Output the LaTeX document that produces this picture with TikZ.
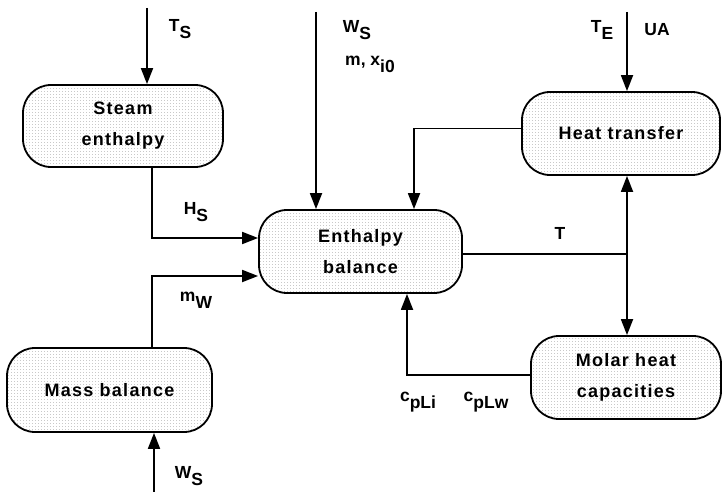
\documentclass[tikz,border=0pt]{standalone}
\usepackage{fontspec}
\setmainfont{Liberation Sans}
\newfontfamily\boxfont{Liberation Sans}[LetterSpace=7]
\usetikzlibrary{arrows.meta,patterns.meta}

% fine stipple used inside the blocks
\tikzdeclarepattern{
  name=finedots,
  type=uncolored,
  bounding box={(0pt,0pt) and (2.6pt,2.6pt)},
  tile size={(2.6pt,2.6pt)},
  code={\fill (0pt,0pt) rectangle (0.85pt,0.85pt);}
}

% variable with a lowered index
\newcommand{\lowidx}[2]{#1\raisebox{-0.4em}{#2}}

\tikzset{
  block/.style={draw=black, line width=1.8pt, rounded corners=28pt,
    preaction={fill=white}, pattern={finedots}, pattern color=black!50,
    align=center, font=\boxfont\bfseries\fontsize{18}{31}\selectfont,
    inner sep=0pt},
  flow/.style={line width=1.8pt, -{Triangle[length=16pt,width=12pt]}},
  wire/.style={line width=1.8pt},
  var/.style={font=\bfseries\fontsize{17.5}{19}\selectfont, inner sep=0pt}
}

\begin{document}
\begin{tikzpicture}[x=1pt,y=-1pt]
\useasboundingbox (0,0) rectangle (723,492);

% blocks
\node[block, minimum width=200pt, minimum height=82pt] (steam) at (123,126) {Steam\\enthalpy};
\node[block, minimum width=203pt, minimum height=83pt] (enth) at (360.5,251.5) {Enthalpy\\balance};
\node[block, minimum width=198pt, minimum height=83pt] (heat) at (621,133.5) {Heat transfer};
\node[block, minimum width=190pt, minimum height=83pt] (molar) at (626,377.5) {Molar heat\\capacities};
\node[block, minimum width=205pt, minimum height=84pt] (mass) at (109.5,390) {Mass balance};

% free ends of the input streams
\coordinate (tsin) at (147,8);
\coordinate (wsin) at (316,12);
\coordinate (tein) at (627,12);
\coordinate (wsbot) at (154,492);
\coordinate (junc) at (627,254);

% inputs
\draw[flow] (tsin) -- (tsin |- steam.north);
\draw[flow] (wsin) -- (wsin |- enth.north);
\draw[flow] (tein) -- (tein |- heat.north);
\draw[flow] (wsbot) -- (wsbot |- mass.south);

% couplings between blocks
\draw[flow] ([xshift=29pt]steam.south) |- ([yshift=13.5pt]enth.west);
\draw[flow] ([xshift=42.5pt]mass.north) |- ([yshift=-24.5pt]enth.west);
\draw[flow] ([yshift=5pt]heat.west) -| ([xshift=53.5pt]enth.north);
\draw[flow] ([yshift=2.5pt]molar.west) -| ([xshift=46.5pt]enth.south);
\draw[wire] (enth.east |- junc) -- (junc);
\draw[flow] (junc) -- (junc |- heat.south);
\draw[flow] (junc) -- (junc |- molar.north);

% variable labels
\node[var] (lts) at (180,29) {\lowidx{T}{S}};
\node[var] (lhs) at (196,212) {\lowidx{H}{S}};
\node[var] (lws) at (357,30) {\lowidx{W}{S}};
\node[var] (lmx) at (370,64) {m, \lowidx{x}{i0}};
\node[var] (lte) at (602,30) {\lowidx{T}{E}};
\node[var] (lua) at (657,30) {UA};
\node[var] (lt) at (560,233) {T};
\node[var] (lmw) at (196,300) {\lowidx{m}{W}};
\node[var] (lwsb) at (189,476) {\lowidx{W}{S}};
\node[var] (lcpi) at (418,402) {\lowidx{c}{pLi}};
\node[var] (lcpw) at (486,402) {\lowidx{c}{pLw}};
\end{tikzpicture}
\end{document}
